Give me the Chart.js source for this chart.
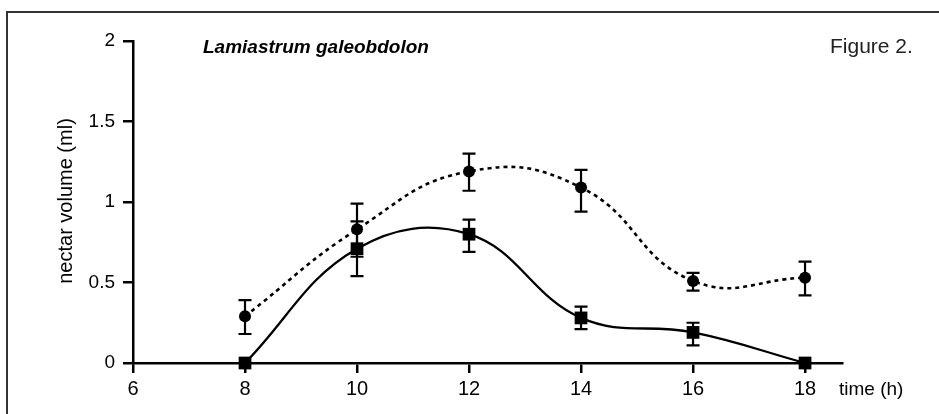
<!DOCTYPE html>
<html>
<head>
<meta charset="utf-8">
<script src="https://cdn.jsdelivr.net/npm/chart.js@4.4.1/dist/chart.umd.min.js"></script>
<style>
  html, body { margin: 0; padding: 0; background: #fff; overflow: hidden; }
  #frame {
    position: absolute; left: 6px; top: 11px; width: 1000px; height: 500px;
    border: 2px solid #333; box-sizing: border-box;
  }
  #nectarChart { position: absolute; left: 0; top: 0; }
</style>
</head>
<body>
<div id="frame"></div>
<canvas id="nectarChart" width="939" height="414"></canvas>
<script>
const hours = [8, 10, 12, 14, 16, 18];
const xTicks = [6, 8, 10, 12, 14, 16, 18];
const yTicks = [0, 0.5, 1, 1.5, 2];

// circles, dashed line
const circleMean = [0.29, 0.83, 1.19, 1.09, 0.51, 0.53];
const circleLow  = [0.18, 0.66, 1.07, 0.94, 0.45, 0.42];
const circleHigh = [0.39, 0.99, 1.30, 1.20, 0.56, 0.63];

// squares, solid line
const squareMean = [0, 0.71, 0.80, 0.28, 0.19, 0];
const squareLow  = [null, 0.54, 0.69, 0.21, 0.11, null];
const squareHigh = [null, 0.88, 0.89, 0.35, 0.25, null];

const FONT = "'Liberation Sans', Arial, Helvetica, sans-serif";

const errorBars = {
    id: "errorBars",
    afterDatasetsDraw(chart) {
        const { ctx, scales: { x, y } } = chart;
        const sets = [[circleLow, circleHigh], [squareLow, squareHigh]];
        ctx.save();
        ctx.strokeStyle = "#000";
        ctx.lineWidth = 2.2;
        sets.forEach(([lo, hi]) => {
            hours.forEach((h, i) => {
                if (lo[i] == null) return;
                const px = x.getPixelForValue(h);
                const y1 = y.getPixelForValue(lo[i]);
                const y2 = y.getPixelForValue(hi[i]);
                ctx.beginPath();
                ctx.moveTo(px, y1); ctx.lineTo(px, y2);
                ctx.moveTo(px - 6.5, y1); ctx.lineTo(px + 6.5, y1);
                ctx.moveTo(px - 6.5, y2); ctx.lineTo(px + 6.5, y2);
                ctx.stroke();
            });
        });
        ctx.restore();
    }
};

const labels = {
    id: "labels",
    afterDraw(chart) {
        const ctx = chart.ctx;
        ctx.save();
        ctx.fillStyle = "#000";
        ctx.textBaseline = "alphabetic";
        ctx.font = "italic bold 19px " + FONT;
        ctx.fillText("Lamiastrum galeobdolon", 203, 53);
        ctx.fillStyle = "#222";
        ctx.font = "21px " + FONT;
        ctx.fillText("Figure 2.", 830, 53);
        ctx.fillStyle = "#000";
        ctx.font = "19px " + FONT;
        ctx.fillText("time (h)", 839, 395);
        ctx.translate(72, 201);
        ctx.rotate(-Math.PI / 2);
        ctx.textAlign = "center";
        ctx.font = "20px " + FONT;
        ctx.fillText("nectar volume (ml)", 0, 0);
        ctx.restore();
    }
};

function createChart() {
    const ctx = document.getElementById("nectarChart").getContext("2d");
    new Chart(ctx, {
        type: "line",
        data: {
            datasets: [{
                label: "circles",
                data: hours.map((h, i) => ({ x: h, y: circleMean[i] })),
                borderColor: "#000",
                backgroundColor: "#000",
                borderWidth: 2.6,
                borderDash: [4, 4],
                tension: 0.45,
                pointStyle: "circle",
                pointRadius: 6,
                pointBorderWidth: 0,
                clip: false
            }, {
                label: "squares",
                data: hours.map((h, i) => ({ x: h, y: squareMean[i] })),
                borderColor: "#000",
                backgroundColor: "#000",
                borderWidth: 2.3,
                tension: 0.4,
                pointStyle: "rect",
                pointRadius: 9,
                pointBorderWidth: 0,
                clip: false
            }]
        },
        options: {
            responsive: false,
            animation: false,
            layout: { padding: { left: 0, top: 41, right: 97, bottom: 0 } },
            scales: {
                x: {
                    type: "linear",
                    min: 6,
                    max: 18.66,
                    afterBuildTicks: (axis) => { axis.ticks = xTicks.map(v => ({ value: v })); },
                    afterFit: (scale) => { scale.height = 51; },
                    border: { color: "#000", width: 2.5 },
                    grid: { drawOnChartArea: false, color: "#000", lineWidth: 2.5, tickLength: 10 },
                    ticks: { color: "#000", font: { family: FONT, size: 20 }, padding: 4, maxRotation: 0 }
                },
                y: {
                    min: 0,
                    max: 2,
                    afterBuildTicks: (axis) => { axis.ticks = yTicks.map(v => ({ value: v })); },
                    afterFit: (scale) => { scale.width = 133; },
                    border: { color: "#000", width: 2.5 },
                    grid: { drawOnChartArea: false, color: "#000", lineWidth: 2.5, tickLength: 10 },
                    ticks: {
                        color: "#000", font: { family: FONT, size: 19 }, padding: 8,
                        callback: (v) => String(v)
                    }
                }
            },
            plugins: {
                legend: { display: false },
                tooltip: { enabled: false }
            }
        },
        plugins: [errorBars, labels]
    });
}

createChart();
</script>
</body>
</html>
